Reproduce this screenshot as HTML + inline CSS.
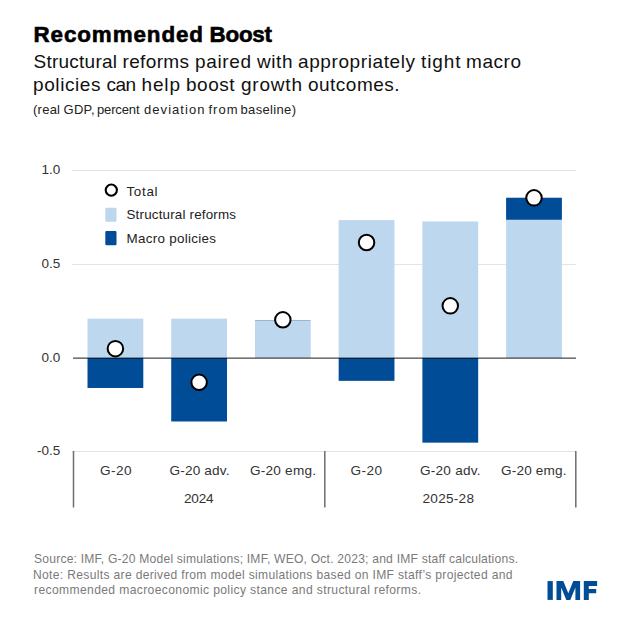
<!DOCTYPE html>
<html><head><meta charset="utf-8"><style>
html,body{margin:0;padding:0;background:#fff;}
svg{display:block;font-family:"Liberation Sans",sans-serif;}
</style></head><body>
<svg width="624" height="624" viewBox="0 0 624 624">
<rect width="624" height="624" fill="#fff"/>
<rect x="72" y="170.0" width="504" height="1" fill="#e3e3e3"/>
<rect x="72" y="264.0" width="504" height="1" fill="#e3e3e3"/>
<rect x="72" y="451.0" width="504" height="1" fill="#e3e3e3"/>
<rect x="87.50" y="318.67" width="55.8" height="39.33" fill="#bdd7ee"/>
<rect x="87.50" y="358.00" width="55.8" height="29.97" fill="#004c97"/>
<rect x="171.22" y="318.67" width="55.8" height="39.33" fill="#bdd7ee"/>
<rect x="171.22" y="358.00" width="55.8" height="63.49" fill="#004c97"/>
<rect x="254.94" y="321.01" width="55.8" height="36.99" fill="#bdd7ee"/>
<rect x="254.94" y="320" width="55.8" height="1" fill="#004c97" fill-opacity="0.4"/>
<rect x="338.66" y="220.15" width="55.8" height="137.85" fill="#bdd7ee"/>
<rect x="338.66" y="358.00" width="55.8" height="22.85" fill="#004c97"/>
<rect x="422.38" y="221.46" width="55.8" height="136.54" fill="#bdd7ee"/>
<rect x="422.38" y="358.00" width="55.8" height="84.66" fill="#004c97"/>
<rect x="506.10" y="219.77" width="55.8" height="138.23" fill="#bdd7ee"/>
<rect x="506.10" y="197.73" width="55.8" height="22.05" fill="#004c97"/>
<rect x="73" y="357" width="503" height="1" fill="#000" fill-opacity="0.35"/>
<rect x="73" y="358" width="503" height="1" fill="#000" fill-opacity="0.55"/>
<circle cx="115.40" cy="348.63" r="7.75" fill="#fff" stroke="#000" stroke-width="2.0"/>
<circle cx="199.12" cy="382.35" r="7.75" fill="#fff" stroke="#000" stroke-width="2.0"/>
<circle cx="282.84" cy="319.85" r="7.75" fill="#fff" stroke="#000" stroke-width="2.0"/>
<circle cx="366.56" cy="242.44" r="7.75" fill="#fff" stroke="#000" stroke-width="2.0"/>
<circle cx="450.28" cy="305.86" r="7.75" fill="#fff" stroke="#000" stroke-width="2.0"/>
<circle cx="534.00" cy="197.86" r="7.75" fill="#fff" stroke="#000" stroke-width="2.0"/>
<rect x="72.75" y="451" width="1.5" height="56.5" fill="#6e6e6e"/>
<rect x="324.05" y="451" width="1.5" height="56.5" fill="#6e6e6e"/>
<rect x="575.05" y="451" width="1.5" height="56.5" fill="#6e6e6e"/>
<circle cx="111.3" cy="190.1" r="5.6" fill="#fff" stroke="#000" stroke-width="2.1"/>
<rect x="105.3" y="207.7" width="11.2" height="14.1" rx="1.2" fill="#bdd7ee"/>
<rect x="105.3" y="230.9" width="11.2" height="14.4" rx="1.2" fill="#004c97"/>
<text x="33.5" y="42" font-size="22.4" font-weight="700" fill="#000" text-anchor="start" textLength="169.5" lengthAdjust="spacing" stroke="#000" stroke-width="0.6">Recommended</text>
<text x="209.5" y="42" font-size="22.4" font-weight="700" fill="#000" text-anchor="start" textLength="62.5" lengthAdjust="spacing" stroke="#000" stroke-width="0.6">Boost</text>
<text x="33.5" y="68.0" font-size="19" font-weight="400" fill="#111" text-anchor="start" textLength="83.5" lengthAdjust="spacing">Structural</text>
<text x="122.5" y="68.0" font-size="19" font-weight="400" fill="#111" text-anchor="start" textLength="66.5" lengthAdjust="spacing">reforms</text>
<text x="195.0" y="68.0" font-size="19" font-weight="400" fill="#111" text-anchor="start" textLength="56.0" lengthAdjust="spacing">paired</text>
<text x="257.0" y="68.0" font-size="19" font-weight="400" fill="#111" text-anchor="start" textLength="35.5" lengthAdjust="spacing">with</text>
<text x="298.0" y="68.0" font-size="19" font-weight="400" fill="#111" text-anchor="start" textLength="117.0" lengthAdjust="spacing">appropriately</text>
<text x="421.0" y="68.0" font-size="19" font-weight="400" fill="#111" text-anchor="start" textLength="39.5" lengthAdjust="spacing">tight</text>
<text x="466.0" y="68.0" font-size="19" font-weight="400" fill="#111" text-anchor="start" textLength="55.0" lengthAdjust="spacing">macro</text>
<text x="33.0" y="91.1" font-size="19" font-weight="400" fill="#111" text-anchor="start" textLength="67.5" lengthAdjust="spacing">policies</text>
<text x="106.5" y="91.1" font-size="19" font-weight="400" fill="#111" text-anchor="start" textLength="29.5" lengthAdjust="spacing">can</text>
<text x="141.5" y="91.1" font-size="19" font-weight="400" fill="#111" text-anchor="start" textLength="38.5" lengthAdjust="spacing">help</text>
<text x="186.0" y="91.1" font-size="19" font-weight="400" fill="#111" text-anchor="start" textLength="48.5" lengthAdjust="spacing">boost</text>
<text x="241.0" y="91.1" font-size="19" font-weight="400" fill="#111" text-anchor="start" textLength="61.0" lengthAdjust="spacing">growth</text>
<text x="308.0" y="91.1" font-size="19" font-weight="400" fill="#111" text-anchor="start" textLength="91.5" lengthAdjust="spacing">outcomes.</text>
<text x="33.0" y="113.6" font-size="13" font-weight="400" fill="#222" text-anchor="start" textLength="27.0" lengthAdjust="spacing">(real</text>
<text x="63.5" y="113.6" font-size="13" font-weight="400" fill="#222" text-anchor="start" textLength="31.0" lengthAdjust="spacing">GDP,</text>
<text x="97.0" y="113.6" font-size="13" font-weight="400" fill="#222" text-anchor="start" textLength="42.5" lengthAdjust="spacing">percent</text>
<text x="144.0" y="113.6" font-size="13" font-weight="400" fill="#222" text-anchor="start" textLength="60.5" lengthAdjust="spacing">deviation</text>
<text x="208.5" y="113.6" font-size="13" font-weight="400" fill="#222" text-anchor="start" textLength="29.0" lengthAdjust="spacing">from</text>
<text x="240.5" y="113.6" font-size="13" font-weight="400" fill="#222" text-anchor="start" textLength="55.5" lengthAdjust="spacing">baseline)</text>
<text x="60.3" y="174.0" font-size="13.5" font-weight="400" fill="#333" text-anchor="end">1.0</text>
<text x="60.3" y="268.0" font-size="13.5" font-weight="400" fill="#333" text-anchor="end">0.5</text>
<text x="60.3" y="361.5" font-size="13.5" font-weight="400" fill="#333" text-anchor="end">0.0</text>
<text x="60.3" y="455.0" font-size="13.5" font-weight="400" fill="#333" text-anchor="end">-0.5</text>
<text x="126.5" y="195.7" font-size="13.4" font-weight="400" fill="#222" text-anchor="start" textLength="31.0" lengthAdjust="spacing">Total</text>
<text x="126.5" y="219.2" font-size="13.4" font-weight="400" fill="#222" text-anchor="start" textLength="109.5" lengthAdjust="spacing">Structural reforms</text>
<text x="126.5" y="242.7" font-size="13.4" font-weight="400" fill="#222" text-anchor="start" textLength="89.5" lengthAdjust="spacing">Macro policies</text>
<text x="100.0" y="474.6" font-size="13.6" font-weight="400" fill="#333" text-anchor="start" textLength="31.5" lengthAdjust="spacing">G-20</text>
<text x="169.5" y="474.6" font-size="13.6" font-weight="400" fill="#333" text-anchor="start" textLength="60.0" lengthAdjust="spacing">G-20 adv.</text>
<text x="250.0" y="474.6" font-size="13.6" font-weight="400" fill="#333" text-anchor="start" textLength="66.0" lengthAdjust="spacing">G-20 emg.</text>
<text x="350.5" y="474.6" font-size="13.6" font-weight="400" fill="#333" text-anchor="start" textLength="31.5" lengthAdjust="spacing">G-20</text>
<text x="420.0" y="474.6" font-size="13.6" font-weight="400" fill="#333" text-anchor="start" textLength="60.5" lengthAdjust="spacing">G-20 adv.</text>
<text x="501.0" y="474.6" font-size="13.6" font-weight="400" fill="#333" text-anchor="start" textLength="65.5" lengthAdjust="spacing">G-20 emg.</text>
<text x="184.0" y="502.6" font-size="13.6" font-weight="400" fill="#333" text-anchor="start" textLength="29.5" lengthAdjust="spacing">2024</text>
<text x="422.5" y="502.6" font-size="13.6" font-weight="400" fill="#333" text-anchor="start" textLength="51.5" lengthAdjust="spacing">2025-28</text>
<text x="34.0" y="563.3" font-size="12.1" font-weight="400" fill="#7a7a7a" text-anchor="start" textLength="484.0" lengthAdjust="spacing">Source: IMF, G-20 Model simulations; IMF, WEO, Oct. 2023; and IMF staff calculations.</text>
<text x="33.0" y="578.6" font-size="12.1" font-weight="400" fill="#7a7a7a" text-anchor="start" textLength="479.5" lengthAdjust="spacing">Note: Results are derived from model simulations based on IMF staff’s projected and</text>
<text x="34.0" y="593.8" font-size="12.1" font-weight="400" fill="#7a7a7a" text-anchor="start" textLength="387.0" lengthAdjust="spacing">recommended macroeconomic policy stance and structural reforms.</text>
<g fill="#004c97">
<rect x="547.5" y="581.1" width="5.3" height="18.8"/>
<path d="M556.5 581.1 H563.3 L568.3 593.2 L573.3 581.1 H580.1 V599.9 H575.4 V587.5 L570.3 599.9 H566.3 L561.2 587.5 V599.9 H556.5 Z"/>
<path d="M583.8 581.1 H597.1 V585.9 H588.8 V589.1 H596.2 V593.2 H588.8 V599.9 H583.8 Z"/>
</g>
</svg>
</body></html>
